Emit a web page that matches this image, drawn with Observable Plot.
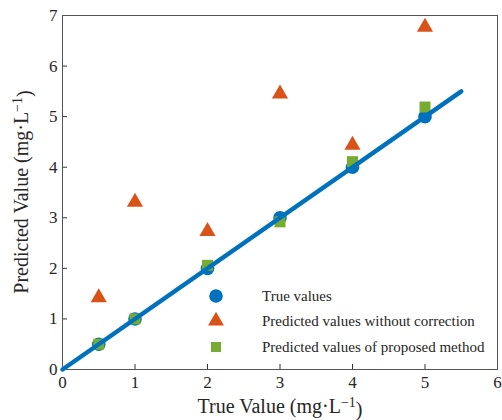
<!DOCTYPE html>
<html><head><meta charset="utf-8">
<script src="https://cdn.jsdelivr.net/npm/d3@7"></script>
<script src="https://cdn.jsdelivr.net/npm/@observablehq/plot@0.6"></script>
<style>body{margin:0;background:#fff}</style>
</head><body><div id="chart"></div>
<script>
const trueX = [0.5, 1, 2, 3, 4, 5];
const trueValues = [0.5, 1, 2, 3, 4, 5];
const uncorrected = [1.42, 3.31, 2.73, 5.45, 4.44, 6.77];
const proposed = [0.5, 1.0, 2.06, 2.92, 4.11, 5.19];
const fitX = [0, 5.5];
const fitY = [0, 5.5];
const xTicks = [0, 1, 2, 3, 4, 5, 6];
const yTicks = [0, 1, 2, 3, 4, 5, 6, 7];
const seriesNames = ["True values", "Predicted values without correction", "Predicted values of proposed method"];
const colors = ["#0072BD", "#D95319", "#77AC30"];

const font = "Liberation Serif, Times New Roman, serif";
const pts = (ys) => trueX.map((x, i) => ({x, y: ys[i]}));
const fit = fitX.map((x, i) => ({x, y: fitY[i]}));

const plot = Plot.plot({
  width: 502, height: 420,
  marginLeft: 62, marginRight: 5, marginTop: 15, marginBottom: 51,
  style: {fontFamily: font, fontSize: "17px", color: "#262626", background: "#fff"},
  x: {domain: [0, 6]},
  y: {domain: [0, 7]},
  marks: [
    Plot.axisX({ticks: xTicks, tickFormat: "d", tickSize: -5, tickPadding: 11, label: null, fontSize: 17, stroke: "#333"}),
    Plot.axisY({ticks: yTicks, tickFormat: "d", tickSize: -5, tickPadding: 10, label: null, fontSize: 17, stroke: "#333"}),
    Plot.frame({stroke: "#555", strokeWidth: 1}),
    Plot.dot(pts(trueValues), {x: "x", y: "y", symbol: "circle", r: 6.8, fill: colors[0]}),
    Plot.dot(pts(uncorrected), {x: "x", y: "y", symbol: "triangle", r: 6, fill: colors[1]}),
    Plot.dot(pts(proposed), {x: "x", y: "y", symbol: "square", r: 6.2, fill: colors[2]}),
    Plot.line(fit, {x: "x", y: "y", stroke: colors[0], strokeWidth: 4.5})
  ]
});
document.getElementById("chart").appendChild(plot);

const svg = d3.select(plot);
svg.selectAll("text").attr("font-family", font);
function addLabel(g, main) {
  g.append("tspan").text(main);
  g.append("tspan").attr("dy", "-0.45em").attr("font-size", "0.7em").text("\u22121");
  g.append("tspan").attr("dy", "0.45em").text(")");
}
const xl = svg.append("text").attr("x", 280).attr("y", 413).attr("text-anchor", "middle")
  .attr("font-family", font).attr("font-size", 20).attr("fill", "#262626");
addLabel(xl, "True Value (mg\u00b7L");
const yl = svg.append("text").attr("transform", "translate(28,192) rotate(-90)").attr("text-anchor", "middle")
  .attr("font-family", font).attr("font-size", 20).attr("fill", "#262626");
addLabel(yl, "Predicted Value (mg\u00b7L");

const leg = svg.append("g");
const legY = [296, 321, 347];
seriesNames.forEach((name, i) => {
  const sizes = [145, 110, 100];
  const sym = [d3.symbolCircle, d3.symbolTriangle, d3.symbolSquare][i];
  leg.append("path").attr("d", d3.symbol(sym, sizes[i])()).attr("transform", `translate(216,${legY[i]})`).attr("fill", colors[i]);
  leg.append("text").attr("x", 262).attr("y", legY[i]).attr("dy", "0.35em").attr("text-anchor", "start")
    .attr("font-family", font).attr("font-size", 15).attr("fill", "#262626").text(name);
});
</script></body></html>
